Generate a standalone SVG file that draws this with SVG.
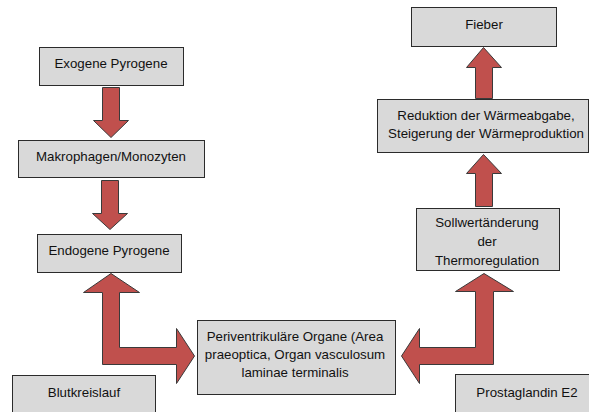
<svg xmlns="http://www.w3.org/2000/svg" width="589" height="412" viewBox="0 0 589 412">
<style>
.box{fill:#d9d9d9;stroke:#2b2b2b;stroke-width:1}
.arr{fill:#c0504d;stroke:#3a3a3a;stroke-width:1;stroke-linejoin:miter}
text{font-family:"Liberation Sans",Arial,sans-serif;font-size:13.3px;fill:#111111;text-anchor:middle}
</style>
<rect width="589" height="412" fill="#ffffff"/>
<g id="connectors">
<polygon class="arr" points="102.5,87.5 119.5,87.5 119.5,120.5 128.5,120.5 111,137.5 93.5,120.5 102.5,120.5"/>
<polygon class="arr" points="101.5,180.5 118.5,180.5 118.5,213.5 127.5,213.5 110,229.5 92.5,213.5 101.5,213.5"/>
<polygon class="arr" points="483.5,47.5 501.5,67.5 492.5,67.5 492.5,98.5 475.5,98.5 475.5,67.5 466.5,67.5"/>
<polygon class="arr" points="483.5,154.5 501.5,173.5 492.5,173.5 492.5,206.5 475.5,206.5 475.5,173.5 466.5,173.5"/>
<polygon class="arr" points="111,273.5 139.5,292.5 119.5,292.5 119.5,347.5 176.5,347.5 176.5,328.5 194.5,356 176.5,383.5 176.5,364.5 102.5,364.5 102.5,292.5 83.5,292.5"/>
<polygon class="arr" points="484,273.5 513.5,291.5 493.5,291.5 493.5,364.5 419.5,364.5 419.5,383.5 401.5,356 419.5,328.5 419.5,347.5 475.5,347.5 475.5,291.5 455.5,291.5"/>
</g>
<g id="fieber"><rect class="box" x="411.5" y="7.5" width="145" height="39"/><text x="484" y="29">Fieber</text></g>
<g id="exogene"><rect class="box" x="39.5" y="47.5" width="144" height="38"/><text x="111" y="68">Exogene Pyrogene</text></g>
<g id="reduktion"><rect class="box" x="377.5" y="99.5" width="211" height="53"/><text x="486" y="120">Reduktion der Wärmeabgabe,</text><text x="486" y="138">Steigerung der Wärmeproduktion</text></g>
<g id="makrophagen"><rect class="box" x="18.5" y="140.5" width="186" height="37"/><text x="111" y="161">Makrophagen/Monozyten</text></g>
<g id="sollwert"><rect class="box" x="416.5" y="208.5" width="143" height="62"/><text x="487" y="227">Sollwertänderung</text><text x="487" y="246">der</text><text x="487" y="265">Thermoregulation</text></g>
<g id="endogene"><rect class="box" x="37.5" y="234.5" width="144" height="38"/><text x="109" y="255">Endogene Pyrogene</text></g>
<g id="periventrikulaer"><rect class="box" x="197.5" y="320.5" width="198" height="74"/><text x="295" y="341">Periventrikuläre Organe (Area</text><text x="295" y="359">praeoptica, Organ vasculosum</text><text x="295" y="377">laminae terminalis</text></g>
<g id="blutkreislauf"><rect class="box" x="12.5" y="375.5" width="143" height="45"/><text x="84" y="397">Blutkreislauf</text></g>
<g id="prostaglandin"><rect class="box" x="455.5" y="374.5" width="145" height="46"/><text x="527" y="397">Prostaglandin E2</text></g>
</svg>
